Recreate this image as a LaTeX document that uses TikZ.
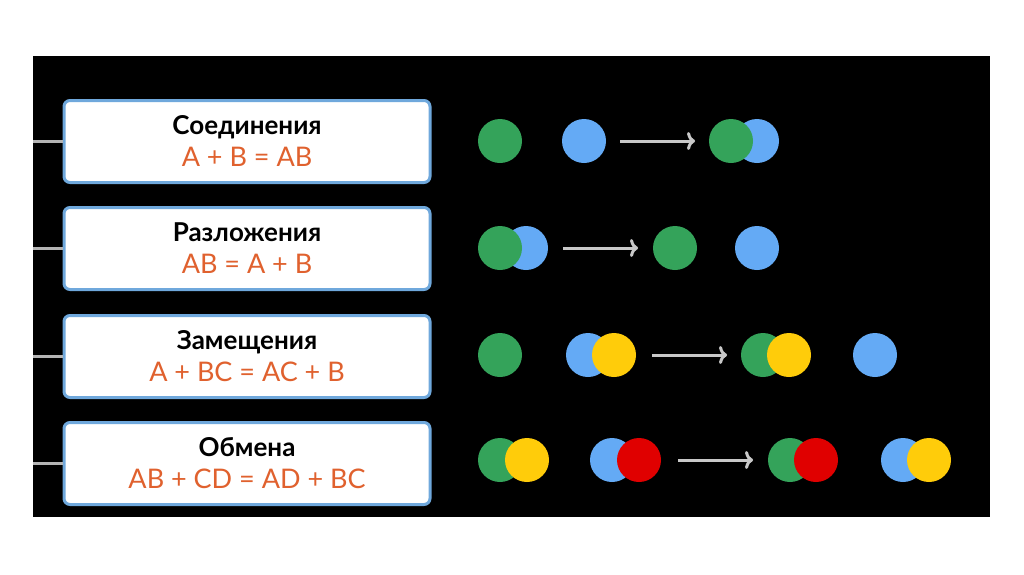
\documentclass[tikz,border=0pt]{standalone}
\usepackage{fontspec}
\setmainfont{Lato}
\usetikzlibrary{arrows.meta}
\definecolor{gr}{HTML}{34A35A}
\definecolor{bl}{HTML}{64AAF5}
\definecolor{ye}{HTML}{FFCC0A}
\definecolor{rd}{HTML}{E00000}
\definecolor{orng}{HTML}{E0612E}
\definecolor{bord}{HTML}{6FA8DC}
\definecolor{arr}{HTML}{C8C8C8}
\tikzset{
  card/.style={draw=bord, line width=3pt, fill=white, rounded corners=6pt, minimum width=366pt, minimum height=82pt, inner sep=0pt},
  stub/.style={draw=arr!90!black, line width=2.5pt},
  ball/.style={circle, minimum size=44pt, inner sep=0pt},
  rarrow/.style={draw=arr, line width=3pt, -{To[length=8pt,width=18pt,line width=3pt]}}
}
\begin{document}
\begin{tikzpicture}[x=1pt,y=-1pt]
\useasboundingbox (0,0) rectangle (1024,574);
\fill[white] (0,0) rectangle (1024,574);
\fill[black] (33,56) rectangle (990,517);
% cards
\foreach \n/\y/\t/\f in {1/141.5/Соединения/{A + B = AB},2/248.5/Разложения/{AB = A + B},3/356.5/Замещения/{A + BC = AC + B},4/463.5/Обмена/{AB + CD = AD + BC}}{
  \coordinate (s\n) at (33,\y);
  \node[card] (c\n) at (247,\y) {};
  \node[font=\bfseries\fontsize{26}{30}\selectfont, anchor=base] (t\n) at (247,\y-7) {\t};
  \node[font=\fontsize{27}{31}\selectfont, text=orng, anchor=base] (f\n) at (247,\y+24.5) {\f};
  \draw[stub] (s\n) -- (c\n.west);
}
% row 1
\node[ball,fill=gr] (a1) at (500,141) {};
\node[ball,fill=bl] (b1) at (584,141) {};
\coordinate (p1) at (620,141); \coordinate (q1) at (695,141);
\draw[rarrow] (p1) -- (q1);
\node[ball,fill=bl] (b1r) at (757,141) {};
\node[ball,fill=gr] (a1r) at (731,141) {};
% row 2
\node[ball,fill=bl] (b2) at (526,248) {};
\node[ball,fill=gr] (a2) at (500,248) {};
\coordinate (p2) at (563,248); \coordinate (q2) at (638,248);
\draw[rarrow] (p2) -- (q2);
\node[ball,fill=gr] (a2r) at (675,248) {};
\node[ball,fill=bl] (b2r) at (757,248) {};
% row 3
\node[ball,fill=gr] (a3) at (500,355) {};
\node[ball,fill=bl] (b3) at (588,355) {};
\node[ball,fill=ye] (y3) at (614,355) {};
\coordinate (p3) at (652,355); \coordinate (q3) at (727,355);
\draw[rarrow] (p3) -- (q3);
\node[ball,fill=gr] (a3r) at (763,355) {};
\node[ball,fill=ye] (y3r) at (789,355) {};
\node[ball,fill=bl] (b3r) at (875,355) {};
% row 4
\node[ball,fill=gr] (a4) at (500,460) {};
\node[ball,fill=ye] (y4) at (527,460) {};
\node[ball,fill=bl] (b4) at (612,460) {};
\node[ball,fill=rd] (r4) at (639,460) {};
\coordinate (p4) at (678,460); \coordinate (q4) at (753,460);
\draw[rarrow] (p4) -- (q4);
\node[ball,fill=gr] (a4r) at (790,460) {};
\node[ball,fill=rd] (r4r) at (816,460) {};
\node[ball,fill=bl] (b4r) at (903,460) {};
\node[ball,fill=ye] (y4r) at (929,460) {};
\end{tikzpicture}
\end{document}
